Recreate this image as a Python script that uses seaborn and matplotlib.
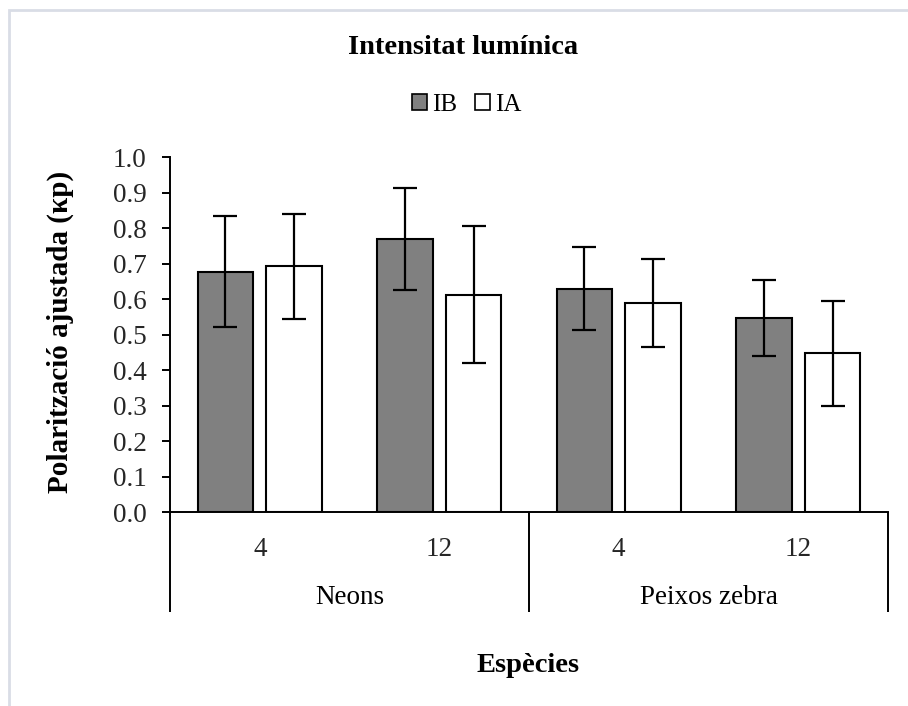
import matplotlib
matplotlib.use("Agg")
import matplotlib.pyplot as plt
from matplotlib.patches import Patch, Rectangle
import seaborn as sns
import pandas as pd

# ---- data ----
groups = ["Neons", "Neons", "Peixos zebra", "Peixos zebra"]
hours = ["4", "12", "4", "12"]
series = ["IB", "IA"]
ib_vals = [0.678, 0.769, 0.629, 0.547]
ib_err = [0.157, 0.144, 0.117, 0.106]
ia_vals = [0.693, 0.613, 0.589, 0.447]
ia_err = [0.148, 0.192, 0.123, 0.148]
y_ticks = [0.0, 0.1, 0.2, 0.3, 0.4, 0.5, 0.6, 0.7, 0.8, 0.9, 1.0]

title = "Intensitat lumínica"
ylabel = "Polarització ajustada (κp)"
xlabel = "Espècies"

cats = [f"{g} {h}" for g, h in zip(groups, hours)]
rows = []
for s, vals in zip(series, [ib_vals, ia_vals]):
    for c, v in zip(cats, vals):
        rows.append({"cat": c, "val": v, "serie": s})
df = pd.DataFrame(rows)
errs = {"IB": ib_err, "IA": ia_err}
colors = {"IB": "#808080", "IA": "#ffffff"}

sns.set_theme(style="white")
plt.rcParams["font.family"] = ["Liberation Serif", "DejaVu Serif"]
plt.rcParams["text.color"] = "black"

W, H = 908, 706
fig = plt.figure(figsize=(W / 100, H / 100), dpi=100)
ax = fig.add_axes([170 / W, 1 - 512 / H, (888 - 170) / W, (512 - 157.3) / H])

sns.barplot(data=df, x="cat", y="val", hue="serie", order=cats, hue_order=series,
            palette=colors, edgecolor="black", linewidth=1.5, width=0.764, gap=0.19,
            errorbar=None, legend=False, ax=ax, saturation=1)

for s, cont in zip(series, ax.containers):
    for j, bar in enumerate(cont):
        xc = bar.get_x() + bar.get_width() / 2
        ax.errorbar(xc, bar.get_height(), yerr=errs[s][j], fmt="none",
                    ecolor="black", elinewidth=1.6, capsize=8.5, capthick=1.6, zorder=5)

ax.set_xlim(-0.5, 3.5)
ax.set_ylim(0, 1.0)
ax.set_yticks(y_ticks)
ax.set_yticklabels([f"{t:.1f}" for t in y_ticks])
ax.set_xticks(range(len(cats)))
ax.set_xticklabels(hours, va="center")
ax.set_xlabel("")
ax.set_ylabel("")
ax.tick_params(axis="y", direction="out", length=6, width=1.4, color="black",
               labelsize=19.5, pad=11, left=True)
ax.tick_params(axis="x", length=0, labelsize=19.5, pad=27)
for sp in ["top", "right"]:
    ax.spines[sp].set_visible(False)
for sp in ["left", "bottom"]:
    ax.spines[sp].set_color("black")
    ax.spines[sp].set_linewidth(1.4)
trans = ax.get_xaxis_transform()
for xs in [-0.5, 1.5, 3.5]:
    ax.plot([xs, xs], [0, -(612 - 512) / (512 - 157.3)], transform=trans,
            color="black", lw=1.4, clip_on=False, solid_capstyle="butt")

# group labels
for g, xc in [("Neons", 0.5), ("Peixos zebra", 2.5)]:
    ax.text(xc, -(597 - 512) / (512 - 157.3), g, transform=trans, ha="center",
            va="center", fontsize=19.5)

fig.text(463 / W, 1 - 47 / H, title, ha="center", va="center", fontsize=20.5,
         fontweight="bold")
fig.text(60 / W, 1 - 332 / H, ylabel, ha="center", va="center", rotation=90,
         fontsize=21, fontweight="bold")
fig.text(528 / W, 1 - 665 / H, xlabel, ha="center", va="center", fontsize=20.5,
         fontweight="bold")

handles = [Patch(facecolor=colors[s], edgecolor="black", linewidth=1.2, label=s)
           for s in series]
fig.legend(handles=handles, loc="center", bbox_to_anchor=(467 / W, 1 - 105 / H),
           ncol=2, frameon=False, fontsize=18, handlelength=0.6, handleheight=0.6,
           handletextpad=0.2, columnspacing=0.7, borderaxespad=0)

# light outer border
fig.patches.append(Rectangle((9 / W, -0.1), 2.0, 1.1 - 10 / H, transform=fig.transFigure,
                             fill=False, edgecolor="#d9dde6", linewidth=2))

fig.savefig("out.png", dpi=100)
